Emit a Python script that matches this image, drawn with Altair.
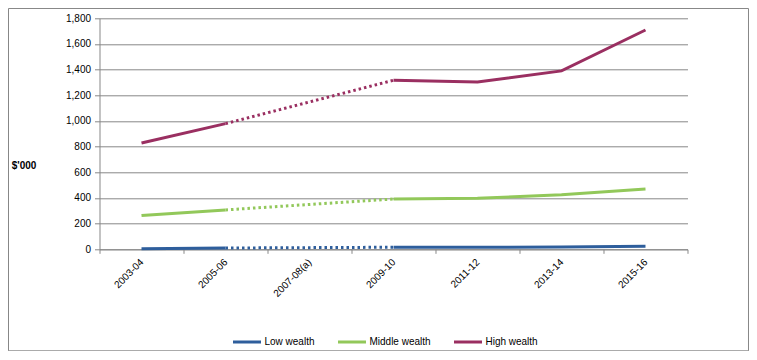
import altair as alt
import pandas as pd

periods = ["2003-04", "2005-06", "2007-08(a)", "2009-10", "2011-12", "2013-14", "2015-16"]
series_names = ["Low wealth", "Middle wealth", "High wealth"]
low_wealth = [5, 10, None, 16, 16, 18, 24]
middle_wealth = [263, 307, None, 392, 397, 426, 470]
high_wealth = [828, 979, None, 1317, 1304, 1390, 1709]
y_ticks = [0, 200, 400, 600, 800, 1000, 1200, 1400, 1600, 1800]
colors = ["#2E5E9C", "#92C85A", "#9A2F61"]

FONT = "Liberation Sans"
GREY = "#878787"

solid_rows = []
dotted_rows = []
for name, vals in zip(series_names, [low_wealth, middle_wealth, high_wealth]):
    seg = 0
    for p, v in zip(periods, vals):
        if v is None:
            seg += 1
            continue
        solid_rows.append({"period": p, "value": v, "series": name, "seg": f"{name}-{seg}"})
    idx_missing = [i for i, v in enumerate(vals) if v is None]
    for i in idx_missing:
        a, b = i - 1, i + 1
        dotted_rows.append({"period": periods[a], "value": vals[a], "series": name})
        dotted_rows.append({"period": periods[b], "value": vals[b], "series": name})

solid_df = pd.DataFrame(solid_rows)
dotted_df = pd.DataFrame(dotted_rows)

x_enc = alt.X(
    "period:N",
    sort=periods,
    scale=alt.Scale(type="band", domain=periods, paddingInner=0, paddingOuter=0),
    bandPosition=0.5,
    axis=alt.Axis(
        title=None,
        grid=False,
        tickBand="extent",
        labelAngle=-45,
        labelAlign="right",
        labelBaseline="middle",
        labelPadding=7,
        labelFont=FONT,
        labelFontSize=10,
        labelColor="#000000",
        domainColor=GREY,
        tickColor=GREY,
        tickSize=4,
    ),
)

y_enc = alt.Y(
    "value:Q",
    scale=alt.Scale(domain=[0, 1800], nice=False),
    axis=alt.Axis(
        values=y_ticks,
        format=",.0f",
        grid=True,
        gridColor=GREY,
        domainColor=GREY,
        tickColor=GREY,
        tickSize=5,
        labelPadding=4,
        labelFont=FONT,
        labelFontSize=10,
        labelColor="#000000",
        title="$'000",
        titleAngle=0,
        titleFont=FONT,
        titleFontSize=10,
        titleFontWeight="bold",
        titleColor="#000000",
        titleX=-76,
        titleY=147,
        titleAlign="center",
        titleBaseline="middle",
    ),
)

color_enc = alt.Color(
    "series:N",
    sort=series_names,
    scale=alt.Scale(domain=series_names, range=colors),
    legend=alt.Legend(
        title=None,
        orient="none",
        legendX=132,
        legendY=308,
        direction="horizontal",
        symbolType="stroke",
        symbolSize=784,
        symbolStrokeWidth=3,
        symbolDash=[1, 0],
        labelFont=FONT,
        labelFontSize=10,
        labelColor="#000000",
        labelOffset=2,
        columnPadding=16,
    ),
)

solid = alt.Chart(solid_df).mark_line(strokeWidth=3).encode(
    x=x_enc, y=y_enc, color=color_enc, detail="seg:N"
)

dotted = alt.Chart(dotted_df).mark_line(strokeWidth=3, strokeDash=[2.5, 3]).encode(
    x=x_enc,
    y=y_enc,
    color=alt.Color("series:N", sort=series_names,
                    scale=alt.Scale(domain=series_names, range=colors), legend=None),
    detail="series:N",
)

border = alt.Chart(pd.DataFrame({"a": [0]})).mark_rect(
    fillOpacity=0, stroke=GREY, strokeWidth=1, clip=False
).encode(
    x=alt.value(-91), x2=alt.value(649), y=alt.value(-9.8), y2=alt.value(332.5)
)

chart = alt.layer(solid, dotted, border).properties(
    width=588,
    height=231,
    autosize=alt.AutoSizeParams(type="none"),
    padding={"left": 91.5, "top": 10.3, "right": 61, "bottom": 102},
    background="white",
).configure_view(stroke=None)

chart.save("out.html", embed_options={"renderer": "svg", "actions": False})
